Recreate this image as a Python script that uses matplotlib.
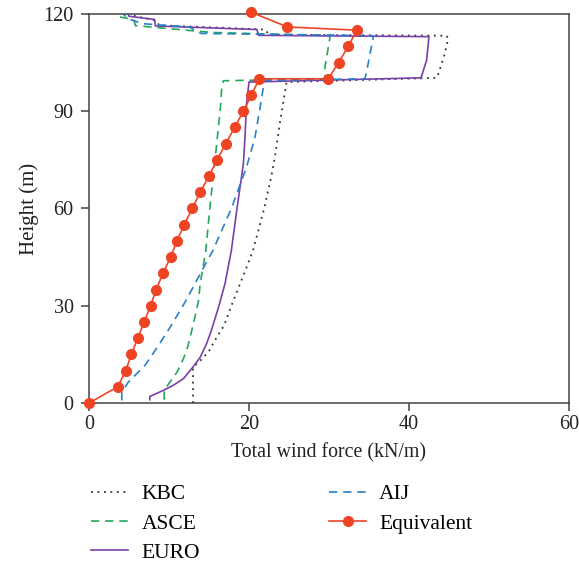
import matplotlib.pyplot as plt

plt.rcParams['font.family'] = ['Liberation Serif', 'DejaVu Serif']

# Wind force profiles (kN/m) against height (m)
kbc_h = [0, 11, 13, 16, 20, 24, 30, 40, 47, 60, 70, 76, 87, 99,
         100.3, 104, 108, 112.4, 113.3, 113.6, 115.2, 116.5, 118, 119.5, 120]
kbc_f = [13.0, 13.0, 13.9, 15.0, 15.9, 16.9, 17.8, 19.4, 20.5, 21.9, 22.8, 23.25, 23.9, 24.7,
         43.5, 44.0, 44.5, 44.9, 44.7, 22.5, 22.0, 8.8, 8.3, 5.5, 5.3]

asce_h = [1, 3.9, 6.4, 9.5, 13.6, 17.8, 21.9, 26.5, 31.7, 36.8, 47, 60, 74.9, 90.3, 97.5, 99.4,
          100, 103.7, 112.4, 113.3, 114.3, 116.4, 118.3, 119, 120]
asce_f = [9.4, 9.4, 10.1, 11.0, 11.8, 12.4, 12.8, 13.25, 13.7, 13.9, 14.6, 15.1, 15.75, 16.4, 16.6, 16.8,
          29.5, 29.5, 30.1, 30.1, 15.3, 5.8, 5.6, 4.0, 3.3]

euro_h = [1, 2, 3.9, 5.4, 7.5, 11.1, 14.1, 18.3, 22.4, 29.6, 36.8, 47.1, 60, 73.8, 82, 92.4, 99,
          100.3, 105.7, 113, 113.4, 115.2, 116.3, 118.3, 119.3, 120]
euro_f = [7.6, 7.6, 9.3, 10.5, 11.8, 13.0, 13.9, 14.7, 15.3, 16.2, 17.0, 17.8, 18.5, 19.3, 19.5, 19.7, 20.0,
          41.5, 42.2, 42.5, 21.2, 21.0, 8.3, 8.2, 5.0, 4.9]

aij_h = [0.8, 3.4, 6.4, 11.6, 17.8, 24, 31.1, 36.8, 43.5, 47.1, 60, 72.8, 82, 91.3, 97.5, 99.5,
         100, 104.7, 112.4, 113.3, 114, 116, 117, 118.6, 120]
aij_f = [4.1, 4.1, 4.9, 7.0, 8.7, 10.3, 12.0, 13.25, 14.7, 15.5, 17.8, 19.7, 20.75, 21.4, 21.8, 22.0,
         34.5, 34.9, 35.5, 35.5, 14.0, 12.5, 6.7, 4.8, 4.3]

eq_h = [0, 5, 10, 15, 20, 25, 30, 35, 40, 45, 50, 55, 60, 65, 70, 75, 80, 85, 90, 95, 100,
        100, 105, 110, 115, 116, 120.5]
eq_f = [0, 3.6, 4.6, 5.3, 6.1, 6.9, 7.7, 8.4, 9.25, 10.2, 11.0, 11.9, 12.9, 13.9, 15.0, 16.0, 17.1, 18.2, 19.3, 20.3, 21.3,
        29.9, 31.2, 32.4, 33.5, 24.8, 20.3]

fig = plt.figure(figsize=(5.79, 5.63), dpi=100)
ax = fig.add_axes([0.1537, 0.2842, 0.829, 0.691])

ax.plot(kbc_f, kbc_h, color='#333333', lw=1.3, ls=(0, (1, 2.6)), label='KBC')
ax.plot(asce_f, asce_h, color='#22a85a', lw=1.2, ls=(0, (5, 3.5)), label='ASCE')
ax.plot(euro_f, euro_h, color='#7a3fa8', lw=1.2, label='EURO')
ax.plot(aij_f, aij_h, color='#2a80c8', lw=1.2, ls=(0, (5, 3.5)), label='AIJ')
ax.plot(eq_f, eq_h, color='#ef4424', lw=1.2, marker='o', ms=7, clip_on=False, zorder=5, label='Equivalent')

ax.set_xlim(0, 60)
ax.set_ylim(0, 120)
ax.set_xticks([0, 20, 40, 60])
ax.set_yticks([0, 30, 60, 90, 120])
ax.tick_params(direction='out', length=6, width=1.1, color='#444444', labelsize=14.5, labelcolor='#222222')
ax.tick_params(axis='x', pad=3)
ax.tick_params(axis='y', pad=5)
for s in ax.spines.values():
    s.set_color('#444444')
    s.set_linewidth(1.1)

ax.set_xlabel('Total wind force (kN/m)', fontsize=14.3, color='#222222', labelpad=6)
ax.set_ylabel('Height (m)', fontsize=15, color='#222222', labelpad=3.5)

fig.legend(loc='upper left', bbox_to_anchor=(0.143, 0.155), ncol=2, frameon=False,
           fontsize=15.5, handlelength=1.72, handletextpad=0.6, columnspacing=6.0, labelspacing=0.42,
           borderaxespad=0, bbox_transform=fig.transFigure)

fig.savefig('out.png', dpi=100)
